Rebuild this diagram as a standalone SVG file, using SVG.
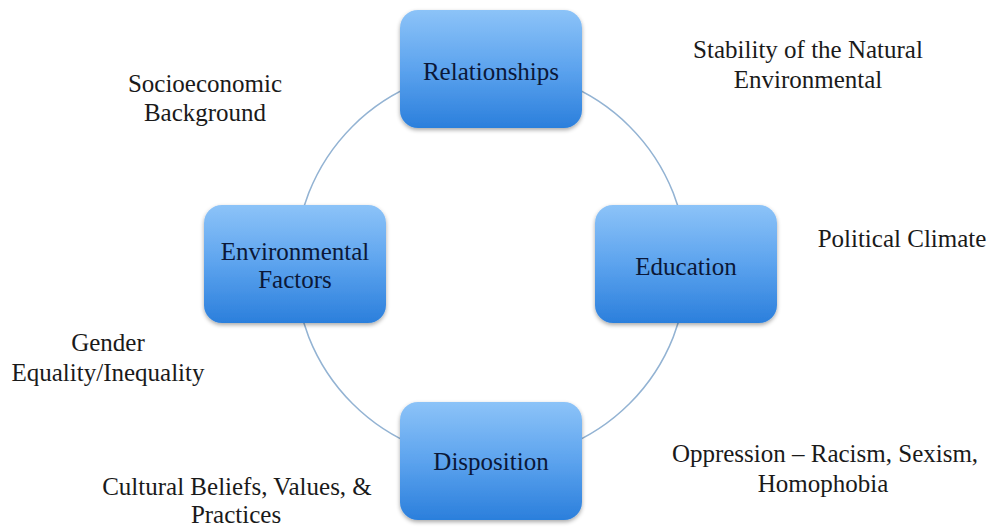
<svg xmlns="http://www.w3.org/2000/svg" width="993" height="529" viewBox="0 0 993 529">
<defs>
<linearGradient id="g" x1="0" y1="0" x2="0" y2="1">
<stop offset="0" stop-color="#8cc3f8"/>
<stop offset="0.5" stop-color="#5ca3ee"/>
<stop offset="1" stop-color="#2b7fdc"/>
</linearGradient>
<filter id="sh" x="-10%" y="-10%" width="120%" height="125%">
<feGaussianBlur in="SourceAlpha" stdDeviation="2"/>
<feOffset dy="2"/>
<feComponentTransfer><feFuncA type="linear" slope="0.35"/></feComponentTransfer>
<feMerge><feMergeNode/><feMergeNode in="SourceGraphic"/></feMerge>
</filter>
</defs>
<style>
.box{fill:url(#g);filter:url(#sh);}
.nt{font-family:"Liberation Serif","Times New Roman",serif;font-size:25px;fill:#0b1838;text-anchor:middle;}
.lt{font-family:"Liberation Serif","Times New Roman",serif;font-size:25px;fill:#1a1a1a;text-anchor:middle;}
.conn{fill:none;stroke:#93b3d3;stroke-width:1.5;}
</style>
<rect width="993" height="529" fill="#ffffff"/>
<g id="connectors">
<circle class="conn" cx="491" cy="265" r="196"/>
</g>
<g id="relationships">
<rect class="box" x="400" y="10" width="182" height="118" rx="18"/>
<text class="nt" x="491" y="80">Relationships</text>
</g>
<g id="education">
<rect class="box" x="595" y="205" width="182" height="118" rx="18"/>
<text class="nt" x="686" y="275">Education</text>
</g>
<g id="environmental-factors">
<rect class="box" x="204" y="205" width="182" height="118" rx="18"/>
<text class="nt" x="295" y="260">Environmental</text>
<text class="nt" x="295" y="288">Factors</text>
</g>
<g id="disposition">
<rect class="box" x="400" y="402" width="182" height="118" rx="18"/>
<text class="nt" x="491" y="470">Disposition</text>
</g>
<g id="labels">
<text class="lt" x="205" y="92">Socioeconomic</text>
<text class="lt" x="205" y="121">Background</text>
<text class="lt" x="808" y="58">Stability of the Natural</text>
<text class="lt" x="808" y="88">Environmental</text>
<text class="lt" x="902" y="247">Political Climate</text>
<text class="lt" x="108" y="351">Gender</text>
<text class="lt" x="108" y="381">Equality/Inequality</text>
<text class="lt" x="825" y="462">Oppression – Racism, Sexism,</text>
<text class="lt" x="823" y="492">Homophobia</text>
<text class="lt" x="237" y="495">Cultural Beliefs, Values, &amp;</text>
<text class="lt" x="236" y="523">Practices</text>
</g>
</svg>
